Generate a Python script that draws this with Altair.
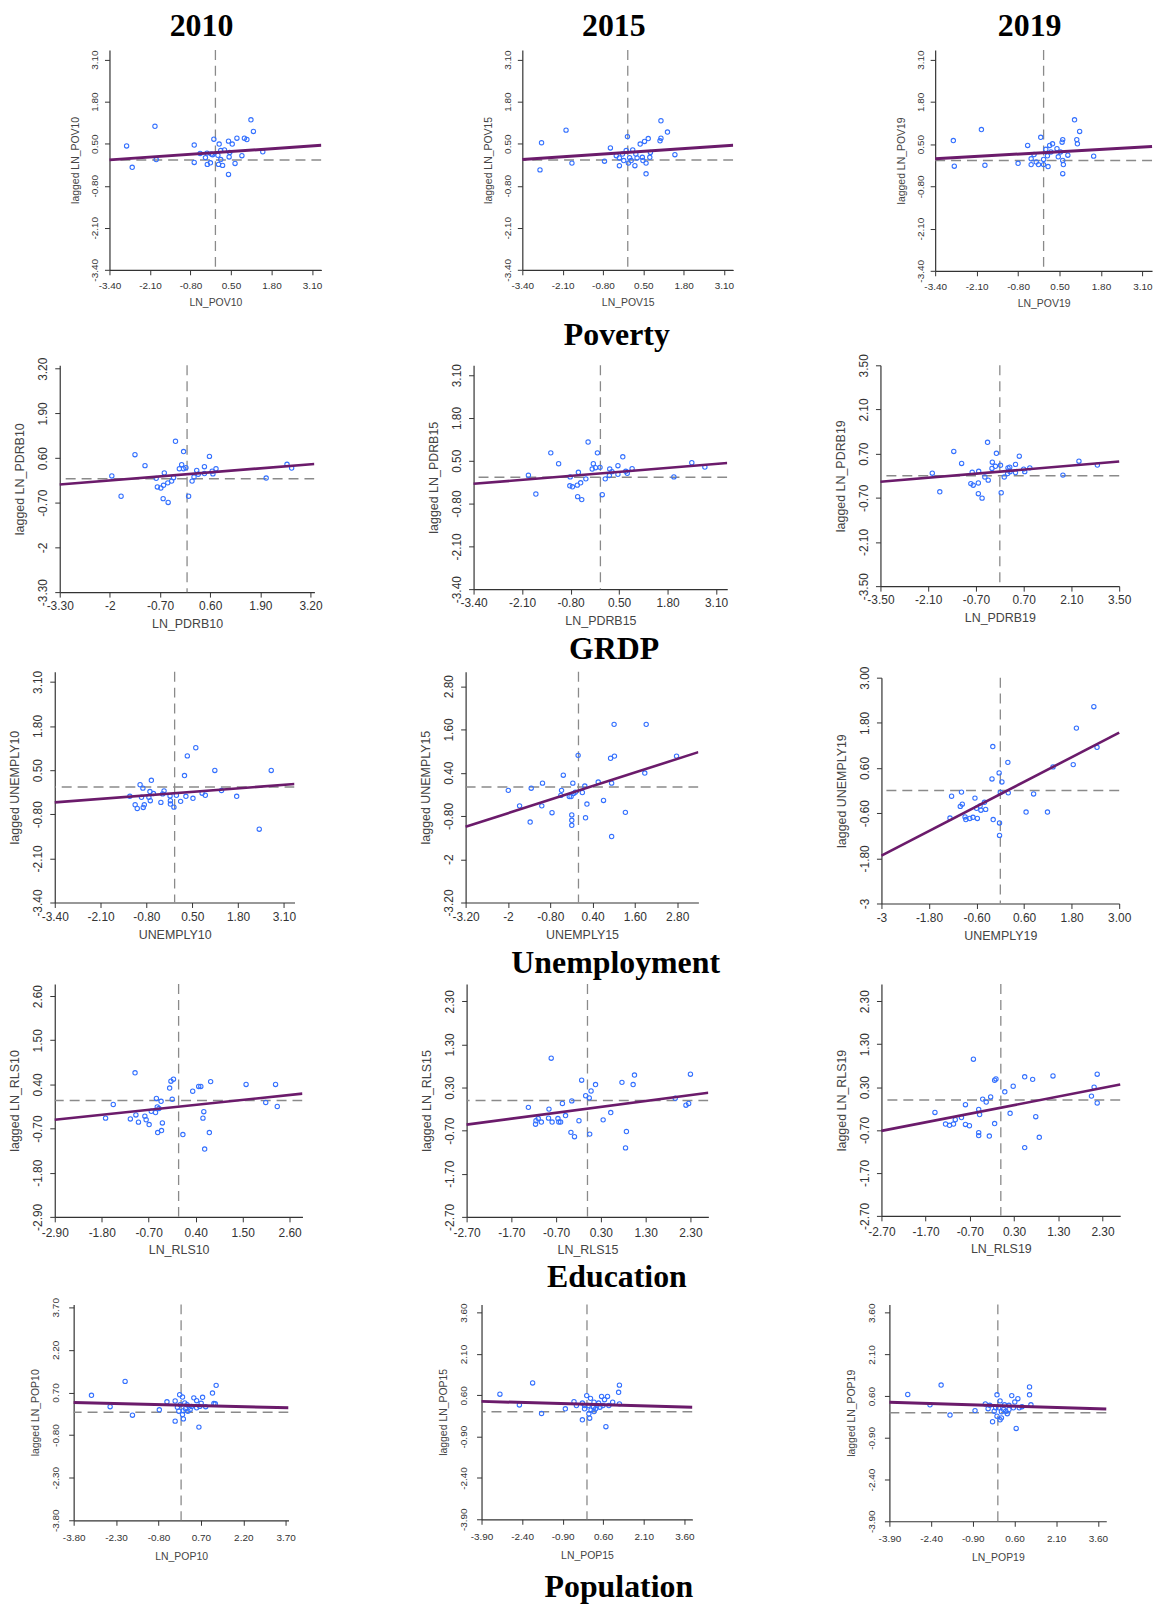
import altair as alt
import pandas as pd

# ---------------- data ----------------
pov10_x = [-2.85,-2.67,-1.94,-1.90,-0.68,-0.68,-0.49,-0.32,-0.26,-0.16,-0.27,-0.09,-0.05,0.08,0.12,0.17,0.17,0.10,0.23,0.29,0.42,0.46,0.44,0.54,0.42,0.63,0.69,0.85,0.93,1.01,1.14,1.22,1.52,-0.13]
pov10_y = [0.43,-0.23,1.04,0.01,0.46,-0.08,0.20,0.07,-0.14,-0.09,0.21,0.16,0.64,0.14,0.49,0.29,0.01,-0.14,-0.17,0.31,0.58,0.23,0.09,0.49,-0.45,-0.11,0.67,0.13,0.67,0.63,1.24,0.88,0.25,0.18]
pov15_x = [-2.78,-2.83,-1.99,-1.80,-0.75,-0.56,-0.27,-0.27,-0.17,-0.13,0.02,0.06,-0.01,0.16,0.23,0.30,0.40,0.47,0.54,0.59,0.59,0.66,0.71,0.73,1.04,1.07,1.07,1.28,1.52,-0.37,0.11,-0.05,0.26,0.49]
pov15_y = [0.53,-0.31,0.92,-0.10,-0.04,0.37,0.06,-0.18,0.18,-0.02,-0.10,0.07,0.72,0.31,-0.18,0.06,0.49,0.08,0.57,-0.10,-0.43,0.66,0.08,0.23,0.59,1.21,0.67,0.86,0.16,0.13,-0.02,0.29,0.18,-0.02]
pov19_x = [-2.83,-2.80,-1.95,-1.84,-0.80,-0.50,-0.39,-0.39,-0.30,-0.23,-0.16,-0.09,0.00,0.00,0.07,0.12,0.14,0.19,0.23,0.28,0.42,0.46,0.53,0.58,0.60,0.60,0.62,0.60,0.76,0.97,1.04,1.06,1.13,1.57]
pov19_y = [0.61,-0.18,0.95,-0.15,-0.09,0.46,0.05,-0.13,0.18,-0.05,-0.13,0.71,0.03,-0.13,0.34,0.14,-0.19,0.46,0.26,0.51,0.36,0.11,0.26,0.56,0.64,0.00,-0.13,-0.41,0.16,1.25,0.64,0.51,0.89,0.13]

pdrb10_x = [-1.95,-1.71,-1.35,-1.09,-0.80,-0.77,-0.68,-0.62,-0.59,-0.61,-0.50,-0.49,-0.40,-0.35,-0.30,-0.20,-0.14,-0.09,-0.09,-0.03,0.04,0.13,0.18,0.25,0.29,0.45,0.45,0.58,0.65,0.67,0.75,2.05,2.59,2.71]
pdrb10_y = [0.08,-0.51,0.70,0.38,0.01,-0.24,-0.27,-0.58,0.17,-0.19,-0.12,-0.69,-0.07,0.03,1.09,0.29,0.41,0.79,0.29,0.32,-0.51,-0.07,0.05,0.24,0.13,0.35,0.15,0.65,0.22,0.14,0.29,0.02,0.42,0.31]
pdrb15_x = [-1.93,-1.73,-1.33,-1.12,-0.81,-0.82,-0.75,-0.62,-0.59,-0.61,-0.53,-0.50,-0.39,-0.33,-0.22,-0.19,-0.13,-0.08,-0.01,0.05,0.13,0.24,0.25,0.31,0.47,0.47,0.60,0.68,0.72,0.85,1.97,2.45,2.80]
pdrb15_y = [0.06,-0.51,0.74,0.41,0.01,-0.26,-0.29,-0.24,0.15,-0.59,-0.17,-0.68,-0.05,1.07,0.25,0.41,0.29,0.74,0.30,-0.53,-0.05,0.05,0.25,0.17,0.35,0.09,0.62,0.18,0.12,0.26,0.01,0.44,0.31]
pdrb19_x = [-1.98,-1.76,-1.35,-1.12,-0.85,-0.78,-0.81,-0.63,-0.62,-0.63,-0.52,-0.44,-0.36,-0.34,-0.23,-0.22,-0.13,-0.10,0.02,0.04,0.13,0.23,0.24,0.29,0.30,0.46,0.46,0.57,0.70,0.73,0.88,1.85,2.32,2.86]
pdrb19_y = [0.08,-0.51,0.77,0.39,-0.25,-0.30,0.11,-0.23,0.14,-0.57,-0.71,-0.04,1.06,-0.14,0.23,0.43,0.30,0.71,0.33,-0.54,-0.04,0.07,0.25,0.27,0.13,0.36,0.10,0.62,0.21,0.13,0.25,0.02,0.46,0.34]

unemp10_x = [-1.27,-1.12,-1.06,-0.98,-0.94,-0.90,-0.89,-0.86,-0.73,-0.70,-0.69,-0.66,-0.60,-0.39,-0.34,-0.30,-0.13,-0.12,-0.12,-0.02,0.05,0.17,0.28,0.32,0.36,0.52,0.60,0.78,0.87,1.14,1.33,1.76,2.40,2.74]
unemp10_y = [-0.27,-0.52,-0.63,0.07,-0.30,-0.03,-0.60,-0.52,-0.30,-0.13,-0.40,0.20,-0.19,-0.45,-0.20,-0.11,-0.26,-0.40,-0.50,-0.59,-0.24,-0.42,0.34,-0.27,0.92,-0.33,1.16,-0.18,-0.24,0.49,-0.10,-0.27,-1.24,0.49]
unemp15_x = [-1.99,-1.67,-1.37,-1.34,-1.04,-1.02,-0.75,-0.48,-0.50,-0.43,-0.26,-0.21,-0.19,-0.19,-0.19,-0.16,-0.14,-0.09,-0.01,0.11,0.18,0.20,0.24,0.56,0.71,0.91,0.94,0.94,1.01,1.02,1.33,1.88,1.92,2.78]
unemp15_y = [-0.09,-0.52,-0.97,-0.03,-0.52,0.11,-0.71,-0.09,-0.23,0.33,-0.26,-0.26,-0.77,-0.92,-1.06,0.11,-0.18,-0.14,0.88,-0.15,0.03,-0.85,-0.47,0.14,-0.37,0.80,0.11,-1.37,1.74,0.86,-0.70,0.39,1.74,0.86]
unemp19_x = [-1.27,-1.23,-1.01,-0.98,-0.96,-0.89,-0.87,-0.77,-0.69,-0.64,-0.60,-0.58,-0.51,-0.49,-0.40,-0.37,-0.21,-0.19,-0.18,-0.03,-0.02,-0.02,0.00,0.04,0.19,0.20,0.65,0.84,1.19,1.33,1.84,1.92,2.36,2.44]
unemp19_y = [-0.73,-0.15,-0.42,-0.04,-0.36,-0.70,-0.77,-0.74,-0.71,-0.20,-0.47,-0.74,-0.41,-0.52,-0.31,-0.50,0.31,1.17,-0.77,0.47,-0.86,-1.19,-0.05,0.23,0.75,-0.06,-0.57,-0.09,-0.57,0.63,0.69,1.66,2.23,1.15]

rls10_x = [-1.71,-1.53,-1.13,-1.02,-1.00,-0.94,-0.79,-0.76,-0.69,-0.64,-0.54,-0.52,-0.50,-0.49,-0.46,-0.41,-0.40,-0.38,-0.21,-0.18,-0.15,-0.12,0.10,0.33,0.47,0.52,0.57,0.59,0.61,0.72,0.75,1.58,2.04,2.27,2.31]
rls10_y = [-0.44,-0.10,-0.46,0.69,-0.36,-0.54,-0.39,-0.48,-0.60,-0.27,-0.30,0.05,-0.16,-0.80,-0.20,-0.02,-0.75,-0.56,0.31,0.48,0.03,0.53,-0.85,0.23,0.35,0.35,-0.44,-0.28,-1.21,-0.80,0.47,0.40,-0.05,0.40,-0.15]
rls15_x = [-1.32,-1.16,-1.15,-1.10,-1.03,-0.86,-0.87,-0.81,-0.79,-0.66,-0.64,-0.60,-0.56,-0.49,-0.37,-0.35,-0.29,-0.19,-0.13,-0.04,0.04,0.05,0.08,0.18,0.35,0.52,0.77,0.85,0.87,1.02,1.05,1.96,2.20,2.26,2.30]
rls15_y = [-0.16,-0.55,-0.47,-0.42,-0.50,-0.20,-0.41,0.98,-0.50,-0.42,-0.50,-0.50,-0.07,-0.35,-0.74,-0.01,-0.84,-0.47,0.47,0.11,0.06,-0.78,0.22,0.37,-0.45,-0.28,0.42,-1.10,-0.72,0.37,0.59,0.05,-0.11,-0.07,0.61]
rls19_x = [-1.49,-1.25,-1.16,-1.07,-1.03,-0.89,-0.80,-0.80,-0.71,-0.62,-0.50,-0.50,-0.50,-0.48,-0.41,-0.33,-0.26,-0.23,-0.14,-0.14,-0.11,0.09,0.21,0.28,0.54,0.54,0.72,0.79,0.87,1.18,2.05,2.11,2.18,2.18]
rls19_y = [-0.29,-0.56,-0.59,-0.56,-0.46,-0.41,-0.11,-0.57,-0.60,0.95,-0.22,-0.76,-0.83,-0.34,0.02,-0.05,-0.84,0.07,0.46,-0.55,0.49,0.19,-0.31,0.32,0.54,-1.11,0.48,-0.39,-0.87,0.56,0.09,0.30,0.60,-0.07]

pop10_x = [-3.17,-2.51,-1.98,-1.72,-0.77,-0.50,-0.21,-0.21,-0.13,-0.05,-0.03,0.05,0.05,0.08,0.16,0.24,0.21,0.32,0.45,0.55,0.55,0.66,0.76,0.87,1.11,1.21,1.24,1.16,0.63,-0.08,0.13,0.37,0.71,0.08]
pop10_y = [0.60,0.20,1.09,-0.10,0.09,0.37,0.40,-0.31,0.18,0.62,0.27,0.54,-0.08,-0.23,0.13,0.04,0.27,0.10,0.51,0.41,0.16,0.21,0.53,0.20,0.68,0.30,0.95,0.31,-0.52,0.04,0.33,0.21,0.32,0.06]
pop15_x = [-3.22,-2.50,-2.01,-1.68,-0.80,-0.48,-0.17,-0.17,-0.09,-0.01,0.05,0.13,0.10,0.15,0.24,0.32,0.43,0.54,0.59,0.65,0.70,0.76,0.81,1.17,1.20,1.20,0.07,0.26,0.48,-0.09,0.26,-0.39,0.37,0.95]
pop15_y = [0.64,0.25,1.05,-0.06,0.11,0.37,0.32,-0.29,0.11,0.59,0.23,0.49,-0.23,0.07,0.17,0.11,0.32,0.56,0.23,0.44,-0.54,0.56,0.23,0.71,0.29,0.97,-0.07,0.35,0.17,0.23,0.01,0.23,0.23,0.35]
pop19_x = [-3.24,-2.44,-2.04,-1.72,-0.82,-0.45,-0.29,-0.19,-0.13,-0.03,0.03,0.08,0.08,0.13,0.21,0.29,0.40,0.50,0.56,0.61,0.66,0.72,0.77,1.14,1.19,1.14,-0.03,0.24,0.40,-0.08,0.34,-0.35,0.87,0.13]
pop19_y = [0.66,0.29,1.00,-0.08,0.08,0.32,0.27,-0.32,0.06,0.65,0.18,0.43,-0.25,0.04,0.12,0.06,0.27,0.62,0.18,0.39,-0.56,0.51,0.18,0.65,0.29,0.93,-0.12,0.29,0.12,0.18,-0.03,0.15,0.22,-0.18]

# fitted Moran line: lagged value read at the left and right end of the x axis
pov10_fit = [0.00, 0.45]
pov15_fit = [0.01, 0.45]
pov19_fit = [0.05, 0.43]
pdrb10_fit = [-0.17, 0.43]
pdrb15_fit = [-0.20, 0.43]
pdrb19_fit = [-0.19, 0.45]
unemp10_fit = [-0.45, 0.09]
unemp15_fit = [-1.10, 0.97]
unemp19_fit = [-1.73, 1.54]
rls10_fit = [-0.48, 0.17]
rls15_fit = [-0.56, 0.18]
rls19_fit = [-0.72, 0.36]
pop10_fit = [0.35, 0.16]
pop15_fit = [0.38, 0.17]
pop19_fit = [0.38, 0.14]

# axis ticks and their printed labels
ticks_a = [-3.4, -2.1, -0.8, 0.5, 1.8, 3.1]
labels_a = ["-3.40", "-2.10", "-0.80", "0.50", "1.80", "3.10"]
ticks_pdrb10 = [-3.3, -2.0, -0.7, 0.6, 1.9, 3.2]
labels_pdrb10 = ["-3.30", "-2", "-0.70", "0.60", "1.90", "3.20"]
ticks_pdrb19 = [-3.5, -2.1, -0.7, 0.7, 2.1, 3.5]
labels_pdrb19 = ["-3.50", "-2.10", "-0.70", "0.70", "2.10", "3.50"]
ticks_unemp15 = [-3.2, -2.0, -0.8, 0.4, 1.6, 2.8]
labels_unemp15 = ["-3.20", "-2", "-0.80", "0.40", "1.60", "2.80"]
ticks_unemp19 = [-3.0, -1.8, -0.6, 0.6, 1.8, 3.0]
labels_unemp19 = ["-3", "-1.80", "-0.60", "0.60", "1.80", "3.00"]
ticks_rls10 = [-2.9, -1.8, -0.7, 0.4, 1.5, 2.6]
labels_rls10 = ["-2.90", "-1.80", "-0.70", "0.40", "1.50", "2.60"]
ticks_rls = [-2.7, -1.7, -0.7, 0.3, 1.3, 2.3]
labels_rls = ["-2.70", "-1.70", "-0.70", "0.30", "1.30", "2.30"]
ticks_pop10 = [-3.8, -2.3, -0.8, 0.7, 2.2, 3.7]
labels_pop10 = ["-3.80", "-2.30", "-0.80", "0.70", "2.20", "3.70"]
ticks_pop = [-3.9, -2.4, -0.9, 0.6, 2.1, 3.6]
labels_pop = ["-3.90", "-2.40", "-0.90", "0.60", "2.10", "3.60"]

col_titles = ["2010", "2015", "2019"]
row_titles = ["Poverty", "GRDP", "Unemployment", "Education", "Population"]

# ---------------- panel definitions ----------------
def P(var, x, y, fit, ticks, labels, xdom=None, ydom=None):
    m = abs(ticks[0])
    return dict(var=var, x=x, y=y, fit=fit, ticks=ticks, labels=labels,
                xdom=xdom or [-m, m], ydom=ydom or [-m, m])

panels = [
    [P("LN_POV10", pov10_x, pov10_y, pov10_fit, ticks_a, labels_a),
     P("LN_POV15", pov15_x, pov15_y, pov15_fit, ticks_a, labels_a),
     P("LN_POV19", pov19_x, pov19_y, pov19_fit, ticks_a, labels_a)],
    [P("LN_PDRB10", pdrb10_x, pdrb10_y, pdrb10_fit, ticks_pdrb10, labels_pdrb10),
     P("LN_PDRB15", pdrb15_x, pdrb15_y, pdrb15_fit, ticks_a, labels_a),
     P("LN_PDRB19", pdrb19_x, pdrb19_y, pdrb19_fit, ticks_pdrb19, labels_pdrb19)],
    [P("UNEMPLY10", unemp10_x, unemp10_y, unemp10_fit, ticks_a, labels_a),
     P("UNEMPLY15", unemp15_x, unemp15_y, unemp15_fit, ticks_unemp15, labels_unemp15, xdom=[-3.2, 3.4]),
     P("UNEMPLY19", unemp19_x, unemp19_y, unemp19_fit, ticks_unemp19, labels_unemp19)],
    [P("LN_RLS10", rls10_x, rls10_y, rls10_fit, ticks_rls10, labels_rls10),
     P("LN_RLS15", rls15_x, rls15_y, rls15_fit, ticks_rls, labels_rls),
     P("LN_RLS19", rls19_x, rls19_y, rls19_fit, ticks_rls, labels_rls)],
    [P("LN_POP10", pop10_x, pop10_y, pop10_fit, ticks_pop10, labels_pop10),
     P("LN_POP15", pop15_x, pop15_y, pop15_fit, ticks_pop, labels_pop),
     P("LN_POP19", pop19_x, pop19_y, pop19_fit, ticks_pop, labels_pop)],
]

# ---------------- layout / style ----------------
NARROW = "Liberation Sans Narrow, Arial Narrow, Liberation Sans, sans-serif"
SANS = "Liberation Sans, Arial, sans-serif"
SERIF = "Liberation Serif, Times New Roman, serif"

HEADER_H = 28
HEADER_GAP = 7

# gaps: blank space before each panel; drop: extra top offset of a panel
row_layout = [
    dict(gaps=[100, 202, 203], widths=[213, 212, 218], heights=[221, 221, 222], drop=[0, 0, 0],
         font=NARROW, fs=10, xlp=6, xtp=7, ylp=5, ytp=9, lw=3.0,
         toff=11, tdx=33, vgap=2),
    dict(gaps=[50, 160, 154], widths=[256, 255, 240], heights=[228, 225, 222], drop=[0, 0, 0],
         font=SANS, fs=12, xlp=3, xtp=7, ylp=5, ytp=10, lw=2.6,
         toff=4, tdx=44, vgap=0),
    dict(gaps=[45, 172, 184], widths=[241, 234, 239], heights=[232, 232, 227], drop=[0, 0, 6],
         font=SANS, fs=12, xlp=4, xtp=6, ylp=5, ytp=10, lw=2.6,
         toff=6, tdx=46, vgap=4),
    dict(gaps=[45, 165, 174], widths=[249, 243, 240], heights=[234, 234, 233], drop=[0, 0, 0],
         font=SANS, fs=12, xlp=6, xtp=5, ylp=5, ytp=10, lw=2.6,
         toff=6, tdx=50, vgap=4),
    dict(gaps=[64, 194, 198], widths=[216, 212, 218], heights=[217, 216, 218], drop=[0, 0, 0],
         font=NARROW, fs=10, xlp=7, xtp=9, ylp=8, ytp=10, lw=3.0,
         toff=10, tdx=58, vgap=0),
]

BLUE = "#3370ff"
PURPLE = "#6b1b6b"
DASH = "#8a8a8a"


def label_expr(ticks, labels):
    expr = "''"
    for t, l in zip(ticks, labels):
        expr = f"abs(datum.value - ({t})) < 0.001 ? '{l}' : " + expr
    return expr


def spacer(w, h):
    df = pd.DataFrame({"a": [0.0], "b": [1.0]})
    sc = alt.Scale(domain=[0, 1], nice=False, zero=False)
    return alt.Chart(df).mark_rect(color="white", strokeWidth=0).encode(
        x=alt.X("a:Q", scale=sc, axis=None), x2="b:Q",
        y=alt.Y("a:Q", scale=sc, axis=None), y2="b:Q",
    ).properties(width=w, height=h)


def header(text, w, h):
    return alt.Chart(pd.DataFrame({"t": [text]})).mark_text(
        font=SERIF, fontSize=32, fontWeight="bold", color="black", dx=-14
    ).encode(text="t:N").properties(width=w, height=h)


def panel(p, st, w, h):
    lx = label_expr(p["ticks"], p["labels"])
    common = dict(values=p["ticks"], labelExpr=lx, grid=False, labelFlush=False,
                  labelOverlap=False, labelFont=st["font"], labelFontSize=st["fs"],
                  titleFont=st["font"], titleFontSize=st["fs"] + 0.5,
                  titleFontWeight="normal", tickSize=5)
    xax = alt.Axis(title=p["var"], labelPadding=st["xlp"], titlePadding=st["xtp"], **common)
    yax = alt.Axis(title="lagged " + p["var"], labelAngle=270, labelAlign="center",
                   labelBaseline="bottom", labelPadding=st["ylp"], titlePadding=st["ytp"], **common)
    xs = alt.Scale(domain=p["xdom"], nice=False, zero=False)
    ys = alt.Scale(domain=p["ydom"], nice=False, zero=False)
    X = alt.X("x:Q", scale=xs, axis=xax)
    Y = alt.Y("y:Q", scale=ys, axis=yax)

    vline = alt.Chart(pd.DataFrame({"x": [0.0]})).mark_rule(
        color=DASH, strokeWidth=1.3, strokeDash=[10, 6]).encode(x=X)
    hline = alt.Chart(pd.DataFrame({"y": [0.0]})).mark_rule(
        color=DASH, strokeWidth=1.5, strokeDash=[10, 6]).encode(y=Y)
    pts = alt.Chart(pd.DataFrame({"x": p["x"], "y": p["y"]})).mark_point(
        shape="circle", filled=False, color=BLUE, size=19, strokeWidth=1.1,
        opacity=1).encode(x=X, y=Y)
    fit = alt.Chart(pd.DataFrame({"x": p["xdom"], "y": p["fit"]})).mark_line(
        color=PURPLE, strokeWidth=st["lw"]).encode(x=X, y=Y)

    return alt.layer(hline, vline, pts, fit).properties(width=w, height=h)


rows = []
# column header row (years), laid out over the first row of panels
st0 = row_layout[0]
hitems = []
for c in range(3):
    hitems.append(spacer(st0["gaps"][c], HEADER_H))
    hitems.append(header(col_titles[c], st0["widths"][c], HEADER_H))
rows.append(alt.hconcat(*hitems, spacing=0, bounds="flush"))
rows.append(spacer(1, HEADER_GAP))

for r, (row, st) in enumerate(zip(panels, row_layout)):
    items = []
    for c, p in enumerate(row):
        items.append(spacer(st["gaps"][c], min(st["heights"])))
        pc = panel(p, st, st["widths"][c], st["heights"][c])
        if st["drop"][c] > 0:
            # last panel of the row sits a little lower than its neighbours
            pc = alt.vconcat(spacer(1, st["drop"][c]), pc, spacing=0, bounds="flush")
        items.append(pc)
    hc = alt.hconcat(*items, spacing=0, bounds="flush", title=alt.TitleParams(
        text=row_titles[r], orient="bottom", anchor="middle", font=SERIF, fontSize=32,
        fontWeight="bold", color="black", offset=st["toff"], dx=st["tdx"]))
    rows.append(hc)
    if r < len(panels) - 1 and st["vgap"] > 0:
        rows.append(spacer(1, st["vgap"]))

chart = alt.vconcat(*rows, spacing=0).properties(
    padding={"left": 0, "top": -2, "right": 0, "bottom": 0}
).configure_view(strokeWidth=0).configure_axis(
    domainColor="#333333", domainWidth=1.2, tickColor="#333333", tickWidth=1,
    labelColor="#333333", titleColor="#444444"
)

chart.save("out.html", embed_options={"renderer": "svg", "actions": False})
